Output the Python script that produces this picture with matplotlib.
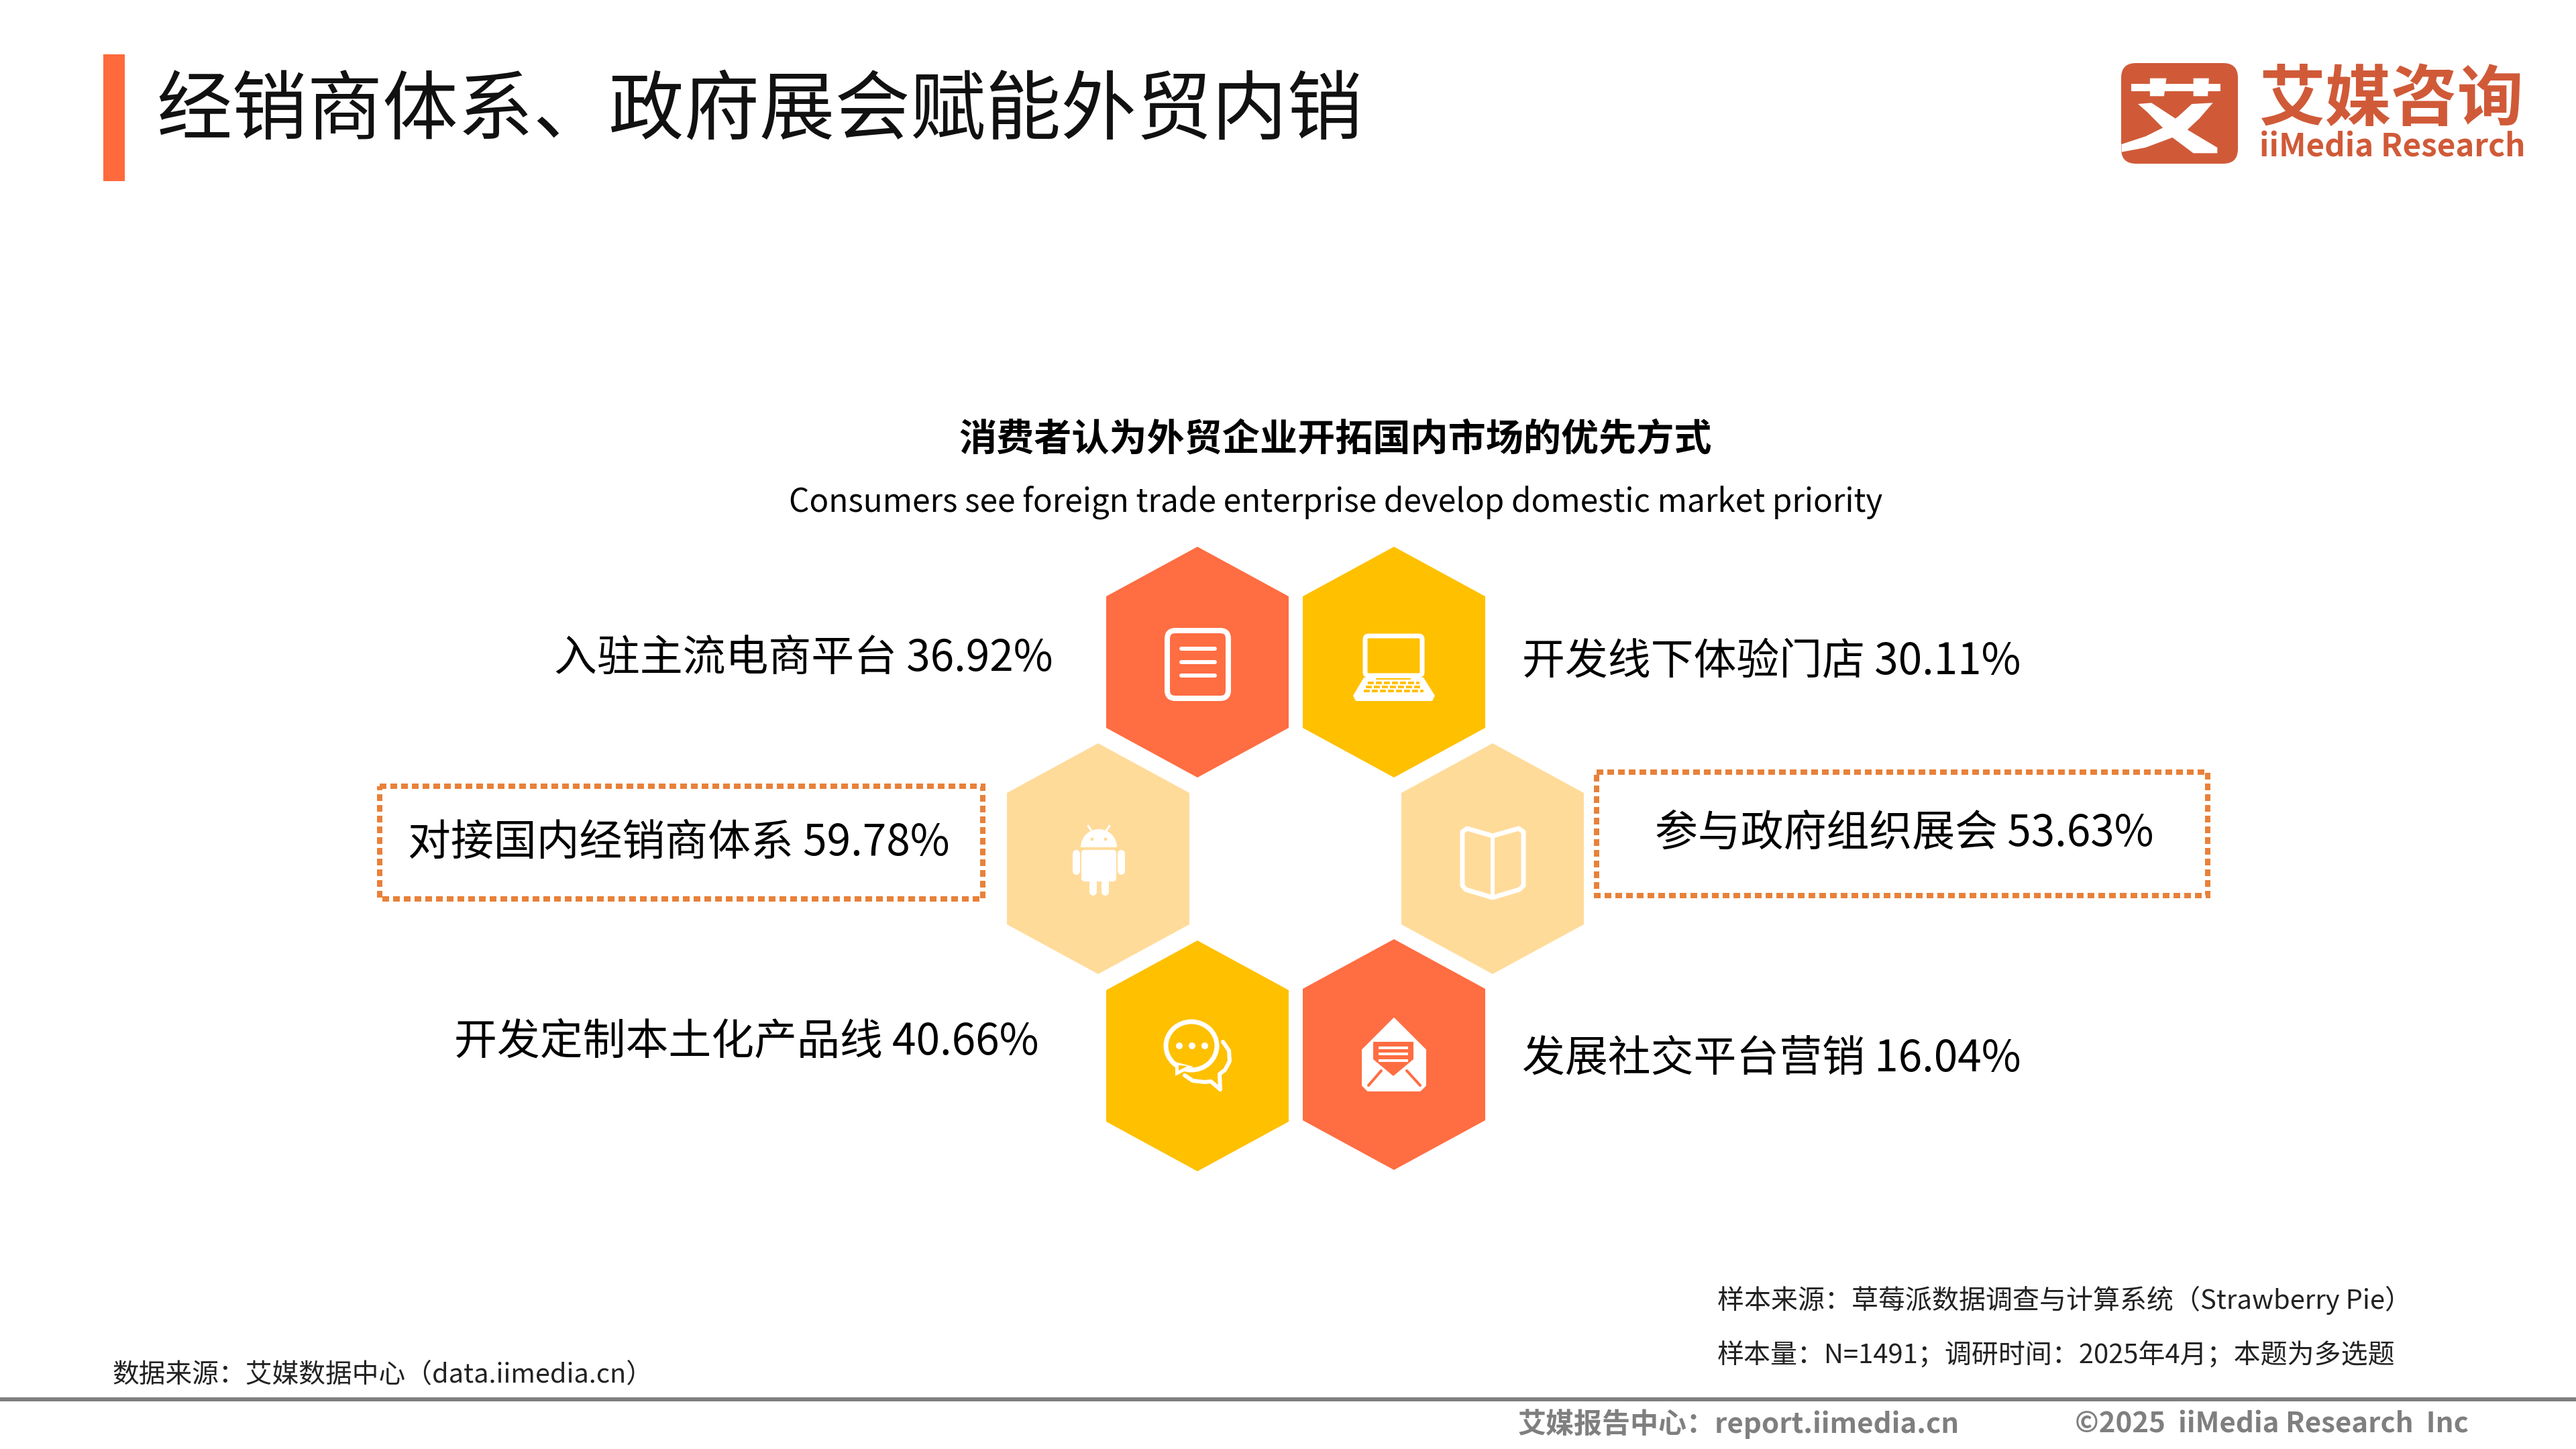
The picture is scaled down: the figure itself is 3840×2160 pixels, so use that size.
import matplotlib
matplotlib.use("Agg")
import matplotlib.pyplot as plt
from matplotlib.patches import Polygon, FancyBboxPatch, Ellipse, Rectangle, Circle, Wedge

plt.rcParams['font.family'] = ['Noto Sans CJK SC', 'DejaVu Sans']

# data
categorias = ['入驻主流电商平台', '开发线下体验门店', '对接国内经销商体系',
              '参与政府组织展会', '开发定制本土化产品线', '发展社交平台营销']
valores = [36.92, 30.11, 59.78, 53.63, 40.66, 16.04]

# layout in pixels of the 3840x2160 canvas
hex_x = [1785, 2078, 1637, 2225, 1785, 2078]
hex_y = [987, 987, 1280, 1280, 1574, 1572]
label_x = [826, 2269, 608, 2467, 677, 2269]
label_y = [982, 987, 1256, 1242, 1553, 1578]

NARANJA = '#FF6D42'
AMARILLO = '#FFC000'
CLARO = '#FFDB9A'
LOGO = '#D05A38'
hex_color = [NARANJA, AMARILLO, CLARO, CLARO, AMARILLO, NARANJA]

fig = plt.figure(figsize=(19.2, 10.8), dpi=200)
ax = fig.add_axes([0, 0, 1, 1])
ax.set_xlim(0, 3840)
ax.set_ylim(2160, 0)
ax.axis('off')

PX = 72 / 200  # points per pixel


def hexagono(cx, cy, color):
    w, h, s = 136, 172, 74
    ax.add_patch(Polygon([(cx, cy - h), (cx + w, cy - h + s), (cx + w, cy + h - s),
                          (cx, cy + h), (cx - w, cy + h - s), (cx - w, cy - h + s)],
                         closed=True, fc=color, ec='none'))


def linea(xs, ys, color='white', lw=8):
    ax.plot(xs, ys, color=color, lw=lw * PX, solid_capstyle='round', solid_joinstyle='round')


def caja(x, y, w, h, r, fc='white', ec='none', lw=0):
    ax.add_patch(FancyBboxPatch((x, y), w, h, boxstyle=f'round,pad=0,rounding_size={r}',
                                fc=fc, ec=ec, lw=lw * PX))


def icono_documento():
    caja(1740, 940, 91, 101, 12, fc='none', ec='white', lw=8)
    for y in [967, 987, 1007]:
        linea([1761, 1811], [y, y], lw=6)


def icono_portatil():
    caja(2035, 948, 85, 59, 5, fc='none', ec='white', lw=7)
    ax.add_patch(Polygon([(2033, 1010), (2122, 1010), (2139, 1037), (2135, 1045),
                          (2021, 1045), (2017, 1037)], closed=True, fc='white', ec='none'))
    for y, x0, x1 in [(1018, 2039, 2116), (1024, 2036, 2119), (1030, 2033, 2122)]:
        ax.plot([x0, x1], [y, y], color=AMARILLO, lw=4 * PX, ls=(0, (2.2, 0.8)))
    ax.plot([2052, 2102], [1012, 1012], color=AMARILLO, lw=2 * PX)


def icono_android():
    ax.add_patch(Wedge((1638, 1263), 27, 180, 360, fc='white', ec='none'))
    caja(1612, 1267, 52, 47, 5)
    for x in [1604, 1671]:
        linea([x, x], [1272, 1298], lw=11)
    for x in [1628.5, 1647]:
        linea([x, x], [1312, 1329], lw=11)
    linea([1622, 1628], [1231, 1240], lw=3)
    linea([1654, 1648], [1231, 1240], lw=3)
    for x in [1628, 1648]:
        ax.add_patch(Circle((x, 1251), 2.5, fc=CLARO, ec='none', zorder=5))


def icono_libro():
    ax.add_patch(Polygon([(2225, 1246), (2187, 1235), (2180, 1240), (2180, 1320), (2185, 1326),
                          (2225, 1338), (2265, 1326), (2271, 1320), (2271, 1240), (2264, 1235)],
                         closed=True, fc='none', ec='white', lw=7 * PX, joinstyle='round'))
    linea([2225, 2225], [1246, 1338], lw=6)


def icono_chat():
    ax.add_patch(Ellipse((1776, 1559), 76, 72, fc='none', ec='white', lw=7 * PX))
    # tail of the main bubble
    ax.add_patch(Polygon([(1752, 1583), (1752, 1604), (1779, 1590)], closed=True,
                         fc='white', ec='none'))
    ax.add_patch(Polygon([(1757, 1588), (1757, 1596), (1770, 1589)], closed=True,
                         fc=AMARILLO, ec='none'))
    # second bubble behind it
    linea([1823, 1832, 1833, 1826, 1818, 1819], [1553, 1566, 1582, 1595, 1601, 1624], lw=6)
    linea([1766, 1778, 1796, 1805, 1819], [1603, 1611, 1613, 1612, 1624], lw=6)
    for x in [1758, 1777, 1796]:
        ax.add_patch(Circle((x, 1559), 5, fc='white', ec='none'))


def icono_correo():
    ax.add_patch(Polygon([(2078, 1518), (2125, 1565), (2125, 1618), (2117, 1626), (2039, 1626),
                          (2031, 1618), (2031, 1565)], closed=True, fc='white', ec='white',
                         lw=2 * PX, joinstyle='round'))
    ax.add_patch(Polygon([(2047, 1553), (2107, 1553), (2107, 1579), (2077, 1604), (2047, 1579)],
                         closed=True, fc=NARANJA, ec='none'))
    for y in [1562, 1571, 1581]:
        ax.plot([2057, 2097], [y, y], color='white', lw=4 * PX)
    linea([2040, 2059], [1618, 1596], color=NARANJA, lw=4)
    linea([2117, 2097], [1618, 1596], color=NARANJA, lw=4)


def logo():
    caja(3162, 94, 174, 150, 22, fc=LOGO)
    zx = lambda v: 3100 + v / 2.24
    zy = lambda v: 60 + v / 3
    trazos = [
        [(172, 195), (470, 195), (470, 228), (172, 228)],
        [(235, 170), (290, 170), (282, 250), (235, 250)],
        [(380, 170), (432, 170), (428, 250), (380, 250)],
        [(195, 285), (240, 280), (320, 350), (360, 400), (460, 480), (460, 505), (380, 505),
         (310, 435), (225, 320)],
        [(445, 280), (400, 350), (360, 400), (310, 435), (220, 480), (140, 500), (140, 465),
         (220, 430), (280, 390), (330, 340), (375, 285)],
    ]
    for t in trazos:
        ax.add_patch(Polygon([(zx(a), zy(b)) for a, b in t], closed=True, fc='white', ec='none'))
    ax.text(3565, 150, '艾媒咨询', fontsize=35.5, fontweight='bold', color=LOGO,
            ha='center', va='center')
    ax.text(3566, 219, 'iiMedia Research', fontsize=17.1, fontweight='bold', color=LOGO,
            ha='center', va='center')


# header
ax.add_patch(Rectangle((154, 81), 32, 189, fc='#FF6A3C', ec='none'))
ax.text(233, 167, '经销商体系、政府展会赋能外贸内销', fontsize=40.45, color='#111111',
        ha='left', va='center')
logo()

ax.text(1991, 656, '消费者认为外贸企业开拓国内市场的优先方式', fontsize=20.2, fontweight='bold',
        color='black', ha='center', va='center')
ax.text(1991, 749, 'Consumers see foreign trade enterprise develop domestic market priority',
        fontsize=17.2, color='black', ha='center', va='center')

# hexagons and labels
for cx, cy, color in zip(hex_x, hex_y, hex_color):
    hexagono(cx, cy, color)
icono_documento()
icono_portatil()
icono_android()
icono_libro()
icono_chat()
icono_correo()

for nombre, valor, x, y in zip(categorias, valores, label_x, label_y):
    ax.text(x, y, f'{nombre} {valor:.2f}%', fontsize=23, color='black', ha='left', va='center')

# dotted boxes for the two highlighted answers
for x0, y0, x1, y1 in [(566, 1172, 1465, 1340), (2380, 1151, 3291, 1335)]:
    ax.add_patch(Rectangle((x0, y0), x1 - x0, y1 - y0, fc='none', ec='#E8813A',
                           lw=8 * PX, ls=(0, (1.25, 0.75))))

# footer
ax.text(2560, 1938, '样本来源：草莓派数据调查与计算系统（Strawberry Pie）', fontsize=14.4,
        color='#222222', ha='left', va='center')
ax.text(2560, 2021, '样本量：N=1491；调研时间：2025年4月；本题为多选题', fontsize=14.4,
        color='#222222', ha='left', va='center')
ax.text(167, 2049, '数据来源：艾媒数据中心（data.iimedia.cn）', fontsize=14.3,
        color='#222222', ha='left', va='center')
ax.plot([0, 3840], [2086, 2086], color='#7F7F7F', lw=6 * PX, solid_capstyle='butt')
ax.text(2263, 2123, '艾媒报告中心：report.iimedia.cn', fontsize=15.15, fontweight='bold',
        color='#7F7F7F', ha='left', va='center')
ax.text(3093, 2123, '©2025  iiMedia Research  Inc', fontsize=15.15, fontweight='bold',
        color='#7F7F7F', ha='left', va='center')

fig.savefig('out.png', dpi=200, facecolor='white')
